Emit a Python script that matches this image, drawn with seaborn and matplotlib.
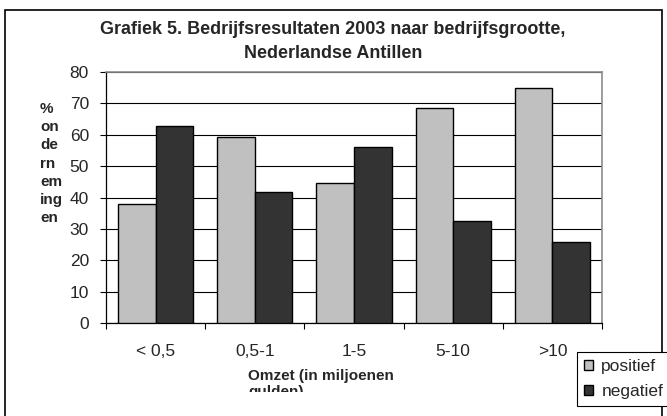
import matplotlib
matplotlib.use("Agg")
import matplotlib.pyplot as plt
import seaborn as sns
import pandas as pd
from matplotlib.patches import Rectangle

# data
categories = ["< 0,5", "0,5-1", "1-5", "5-10", ">10"]
positief = [37.8, 59.2, 44.5, 68.4, 74.8]
negatief = [62.8, 41.6, 56.0, 32.4, 25.7]
series = ["positief", "negatief"]
colors = {"positief": "#c0c0c0", "negatief": "#333333"}

df = pd.DataFrame({
    "omzet": categories * 2,
    "reeks": ["positief"] * len(categories) + ["negatief"] * len(categories),
    "pct": positief + negatief,
})

sns.set_style("white")
plt.rcParams["font.family"] = ["Liberation Sans", "DejaVu Sans"]

fig = plt.figure(figsize=(6.67, 4.16), dpi=100)
ax = fig.add_axes([106 / 667, 1 - 323 / 416, 496 / 667, 251 / 416])

sns.barplot(data=df, x="omzet", y="pct", hue="reeks", hue_order=series,
            order=categories, palette=colors, saturation=1, width=0.76,
            edgecolor="black", linewidth=1.0, ax=ax, zorder=3)

ax.set_ylim(0, 80)
ax.set_xlim(-0.5, len(categories) - 0.5)
ax.set_yticks(range(0, 81, 10))
ax.yaxis.grid(True, color="black", linewidth=0.8, zorder=0)
ax.set_axisbelow(True)
ax.set_xlabel("")
ax.set_ylabel("")

for s in ["top", "right"]:
    ax.spines[s].set_color("#8c8c8c")
    ax.spines[s].set_linewidth(1.2)
ax.spines["left"].set_color("black")
ax.spines["bottom"].set_color("black")
ax.spines["left"].set_linewidth(0.9)
ax.spines["bottom"].set_linewidth(0.9)

ax.tick_params(axis="y", left=True, length=4.3, width=0.8, color="black",
               labelsize=12.5, pad=8)
ax.set_xticks(range(len(categories)))
ax.set_xticklabels(categories)
ax.set_xticks([i - 0.5 for i in range(len(categories) + 1)], minor=True)
ax.tick_params(axis="x", which="major", bottom=False, length=0,
               labelsize=12.5, pad=15)
ax.tick_params(axis="x", which="minor", bottom=True, length=4.3, width=0.8,
               color="black")

# legend
handles, labels = ax.get_legend_handles_labels()
leg = fig.legend(handles, labels, loc="upper left",
                 bbox_to_anchor=(577 / 667, 1 - 352 / 416),
                 fontsize=12.5, frameon=True, fancybox=False, framealpha=1,
                 edgecolor="black", handlelength=0.55, handleheight=0.55,
                 handletextpad=0.45, borderpad=0.4, labelspacing=0.6,
                 borderaxespad=0)
leg.get_frame().set_linewidth(0.8)
ax.get_legend().remove()

# titles and labels
fig.text(333 / 667, 1 - 29 / 416,
         "Grafiek 5. Bedrijfsresultaten 2003 naar bedrijfsgrootte,",
         ha="center", va="center", fontsize=13, fontweight="bold")
fig.text(333 / 667, 1 - 53 / 416, "Nederlandse Antillen",
         ha="center", va="center", fontsize=13, fontweight="bold")

fig.text(40 / 667, 1 - 102 / 416, "%\non\nde\nrn\nem\ning\nen",
         ha="left", va="top", fontsize=11, fontweight="bold", linespacing=1.38)

fig.text(248 / 667, 1 - 369 / 416, "Omzet (in miljoenen\ngulden)",
         ha="left", va="top", fontsize=11, fontweight="bold",
         multialignment="left", linespacing=1.2)
# the second line of the axis title is cut off in the original
fig.add_artist(Rectangle((240 / 667, 0), 180 / 667, 24 / 416,
                         transform=fig.transFigure, facecolor="white",
                         edgecolor="none", zorder=10))

# outer frame
fig.add_artist(Rectangle((5 / 667, -0.05), 657 / 667, 1.05 - 10 / 416,
                         transform=fig.transFigure, fill=False,
                         edgecolor="black", linewidth=1.2))

fig.savefig("out.png", dpi=100)
